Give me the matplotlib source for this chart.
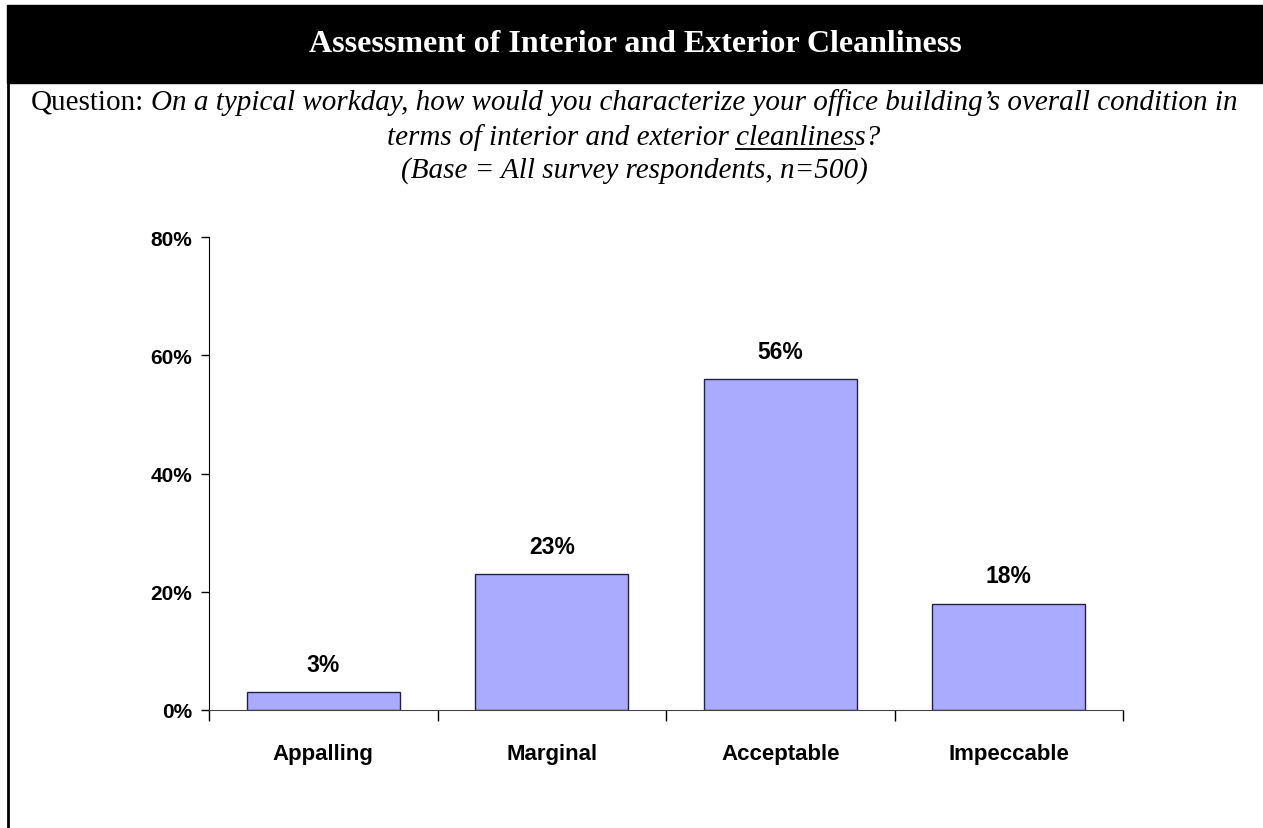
import matplotlib
matplotlib.use("Agg")
import matplotlib.pyplot as plt
from matplotlib.lines import Line2D
from matplotlib.patches import Rectangle

categories = ['Appalling', 'Marginal', 'Acceptable', 'Impeccable']
values = [3, 23, 56, 18]
y_ticks = [0, 20, 40, 60, 80]

title = 'Assessment of Interior and Exterior Cleanliness'
q_label = 'Question:'
q_line1 = 'On a typical workday, how would you characterize your office building\u2019s overall condition in'
q_line2_pre = 'terms of interior and exterior '
q_line2_ul = 'cleanlines'
q_line2_post = 's?'
q_line3 = '(Base = All survey respondents, n=500)'

W, H = 1263, 829
fig = plt.figure(figsize=(W / 100, H / 100), dpi=100)
renderer = fig.canvas.get_renderer()


def fx(x):
    return x / W


def fy(y):
    return 1 - y / H


serif = 'Liberation Serif'
sans = 'Liberation Sans'
qsize = 21

# header block + left border
fig.patches.append(Rectangle((fx(7), fy(84)), fx(W) - fx(7), fy(6) - fy(84),
                             transform=fig.transFigure, color='black', zorder=0))
fig.lines.append(Line2D([fx(8), fx(8)], [fy(84), 0], transform=fig.transFigure,
                        color='black', lw=2))
fig.text(fx(635), fy(44), title, color='white', fontsize=23, fontweight='bold',
         family=serif, ha='center', va='center')


def width(s, **kw):
    t = fig.text(0, 0, s, fontsize=qsize, family=serif, **kw)
    w = t.get_window_extent(renderer).width
    t.remove()
    return w


space = width('a a') - width('aa')

# question line 1: upright label + italic text
w_lab = width(q_label)
w_it = width(q_line1, style='italic')
total = w_lab + space + w_it
x0 = 634 - total / 2
fig.text(fx(x0), fy(103), q_label, fontsize=qsize, family=serif, va='center')
fig.text(fx(x0 + w_lab + space), fy(103), q_line1, fontsize=qsize, family=serif,
         style='italic', va='center')

# line 2 with underlined word
full2 = q_line2_pre + q_line2_ul + q_line2_post
w2 = width(full2, style='italic')
x2 = 634 - w2 / 2
fig.text(fx(x2), fy(138), full2, fontsize=qsize, family=serif, style='italic', va='center')
u0 = x2 + width(q_line2_pre.rstrip(), style='italic') + space
u1 = x2 + width(q_line2_pre + q_line2_ul, style='italic')
fig.lines.append(Line2D([fx(u0), fx(u1)], [fy(150), fy(150)], transform=fig.transFigure,
                        color='black', lw=1.3))

fig.text(fx(634), fy(171), q_line3, fontsize=qsize, family=serif, style='italic',
         ha='center', va='center')

# chart
ax = fig.add_axes([fx(209), fy(711), fx(1123) - fx(209), fy(238) - fy(711)])
x = range(len(categories))
ax.bar(x, values, width=0.67, color='#AAAAFF', edgecolor='#222244', linewidth=1, zorder=2)
for i, v in enumerate(values):
    ax.annotate(f'{v}%', (i, v), xytext=(0, 20), textcoords='offset points',
                ha='center', va='center', fontsize=16.5, fontweight='bold', family=sans)

ax.set_xlim(-0.5, len(categories) - 0.5)
ax.set_ylim(0, 80)
ax.set_yticks(y_ticks)
ax.set_yticklabels([f'{t}%' for t in y_ticks], fontsize=15, fontweight='bold', family=sans)
ax.set_xticks(list(x))
ax.set_xticklabels(categories, fontsize=16, fontweight='bold', family=sans)
ax.set_xticks([i - 0.5 for i in range(len(categories) + 1)], minor=True)
ax.tick_params(axis='x', which='major', length=0, pad=24)
ax.tick_params(axis='x', which='minor', length=8, width=1, direction='out')
ax.tick_params(axis='y', length=6, width=1, direction='out', pad=6)
for s in ['top', 'right']:
    ax.spines[s].set_visible(False)
ax.spines['bottom'].set_color('#444444')
ax.spines['left'].set_color('black')

fig.savefig('out.png', dpi=100)
